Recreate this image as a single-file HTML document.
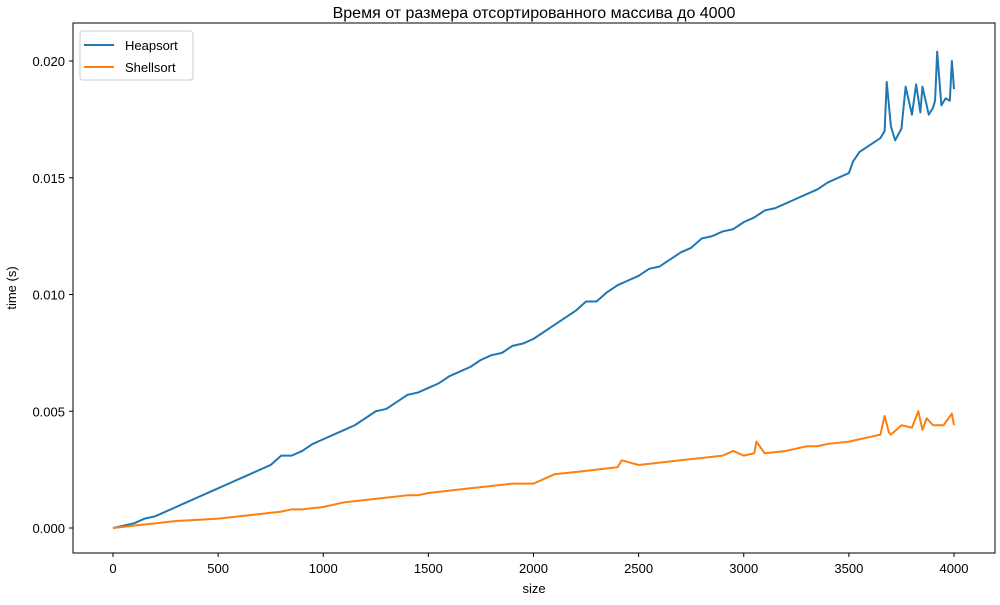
<!DOCTYPE html>
<html><head><meta charset="utf-8">
<style>
body{margin:0;background:#fff;font-family:"Liberation Sans","DejaVu Sans",sans-serif;}
svg text{font-family:"Liberation Sans","DejaVu Sans",sans-serif;}
</style></head>
<body>
<svg id="chart" width="1000" height="600" viewBox="0 0 1000 600" xmlns="http://www.w3.org/2000/svg">
<rect width="1000" height="600" fill="#fff"/>
<text x="534" y="18" font-size="16" text-anchor="middle">Время от размера отсортированного массива до 4000</text>
<g id="plot"></g>
<rect x="73" y="23" width="922" height="530" fill="none" stroke="#000" stroke-width="1"/>
<text x="534" y="593" font-size="13" text-anchor="middle">size</text>
<text transform="translate(16,288) rotate(-90)" font-size="13" text-anchor="middle">time (s)</text>
<g>
<rect x="80" y="31" width="113" height="49" fill="#fff" stroke="#ccc" rx="3"/>
<line x1="84" y1="45" x2="114" y2="45" stroke="#1f77b4" stroke-width="2"/>
<text x="125" y="50" font-size="13">Heapsort</text>
<line x1="84" y1="67" x2="114" y2="67" stroke="#ff7f0e" stroke-width="2"/>
<text x="125" y="72" font-size="13">Shellsort</text>
</g>
</svg>
<script>
const xTicks=[0,500,1000,1500,2000,2500,3000,3500,4000];
const yTicks=[0,0.005,0.010,0.015,0.020];
const yTickLabels=["0.000","0.005","0.010","0.015","0.020"];
const heapSizes=[0,50,100,150,200,250,300,350,400,450,500,550,600,650,700,750,800,850,900,950,1000,1050,1100,1150,1200,1250,1300,1350,1400,1450,1500,1550,1600,1650,1700,1750,1800,1850,1900,1950,2000,2050,2100,2150,2200,2250,2300,2350,2400,2450,2500,2550,2600,2650,2700,2750,2800,2850,2900,2950,3000,3050,3100,3150,3200,3250,3300,3350,3400,3450,3500,3520,3550,3600,3650,3670,3680,3700,3720,3750,3770,3800,3820,3840,3850,3880,3900,3910,3920,3940,3960,3980,3990,4000];
const heapValues=[0,0.0001,0.0002,0.0004,0.0005,0.0007,0.0009,0.0011,0.0013,0.0015,0.0017,0.0019,0.0021,0.0023,0.0025,0.0027,0.0031,0.0031,0.0033,0.0036,0.0038,0.0040,0.0042,0.0044,0.0047,0.0050,0.0051,0.0054,0.0057,0.0058,0.0060,0.0062,0.0065,0.0067,0.0069,0.0072,0.0074,0.0075,0.0078,0.0079,0.0081,0.0084,0.0087,0.0090,0.0093,0.0097,0.0097,0.0101,0.0104,0.0106,0.0108,0.0111,0.0112,0.0115,0.0118,0.0120,0.0124,0.0125,0.0127,0.0128,0.0131,0.0133,0.0136,0.0137,0.0139,0.0141,0.0143,0.0145,0.0148,0.0150,0.0152,0.0157,0.0161,0.0164,0.0167,0.0170,0.0191,0.0172,0.0166,0.0171,0.0189,0.0177,0.0190,0.0178,0.0189,0.0177,0.0180,0.0183,0.0204,0.0181,0.0184,0.0183,0.0200,0.0188];
const shellSizes=[0,100,200,300,400,500,600,700,800,850,900,1000,1100,1200,1300,1400,1450,1500,1600,1700,1800,1900,2000,2050,2100,2200,2300,2400,2420,2500,2600,2700,2800,2900,2950,3000,3050,3060,3100,3200,3300,3350,3400,3500,3600,3650,3670,3690,3700,3750,3800,3830,3850,3870,3900,3950,3990,4000];
const shellValues=[0,0.0001,0.0002,0.0003,0.00035,0.0004,0.0005,0.0006,0.0007,0.0008,0.0008,0.0009,0.0011,0.0012,0.0013,0.0014,0.0014,0.0015,0.0016,0.0017,0.0018,0.0019,0.0019,0.0021,0.0023,0.0024,0.0025,0.0026,0.0029,0.0027,0.0028,0.0029,0.0030,0.0031,0.0033,0.0031,0.0032,0.0037,0.0032,0.0033,0.0035,0.0035,0.0036,0.0037,0.0039,0.0040,0.0048,0.0041,0.0040,0.0044,0.0043,0.0050,0.0042,0.0047,0.0044,0.0044,0.0049,0.0044];
const NS="http://www.w3.org/2000/svg";
const X=v=>113+v*(954-113)/4000;
const Y=v=>528-v*(528-61)/0.02;
const g=document.getElementById('plot');
function mk(t,a){const e=document.createElementNS(NS,t);for(const k in a)e.setAttribute(k,a[k]);g.appendChild(e);return e;}
xTicks.forEach(t=>{
  const l=mk('line',{x1:X(t),x2:X(t),y1:553,y2:557,stroke:'#000'});
  
  
  const tx=mk('text',{x:X(t),y:573,'font-size':13,'text-anchor':'middle'});tx.textContent=t;
  
  
});
yTicks.forEach((t,i)=>{
  const l=mk('line',{x1:69,x2:73,y1:Y(t),y2:Y(t),stroke:'#000'});
  
  
  const tx=mk('text',{x:65,y:Y(t)+5,'font-size':13,'text-anchor':'end'});tx.textContent=yTickLabels[i];
  
  
});
function line(xs,ys,c,name){
  const p=mk('polyline',{points:xs.map((x,i)=>X(x)+','+Y(ys[i])).join(' '),fill:'none',stroke:c,'stroke-width':2,'stroke-linejoin':'round'});
  
  
}
line(heapSizes,heapValues,'#1f77b4','heapsort-line');
line(shellSizes,shellValues,'#ff7f0e','shellsort-line');
</script>
</body></html>
